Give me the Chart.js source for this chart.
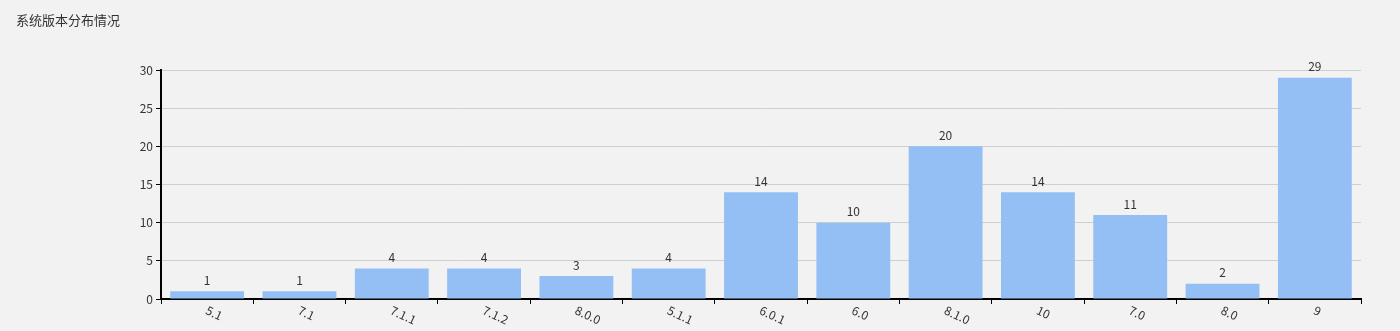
<!DOCTYPE html>
<html>
<head>
<meta charset="utf-8">
<script src="https://cdn.jsdelivr.net/npm/chart.js@4/dist/chart.umd.min.js"></script>
<style>
  html, body { margin: 0; padding: 0; background: #f2f2f2; }
  #wrap { position: relative; width: 1400px; height: 331px; }
</style>
</head>
<body>
<div id="wrap"><canvas id="versionChart" width="1400" height="331"></canvas></div>
<script>
const chartTitle = "系统版本分布情况";
const versions = ["5.1", "7.1", "7.1.1", "7.1.2", "8.0.0", "5.1.1", "6.0.1", "6.0", "8.1.0", "10", "7.0", "8.0", "9"];
const counts = [1, 1, 4, 4, 3, 4, 14, 10, 20, 14, 11, 2, 29];
const yTicks = [0, 5, 10, 15, 20, 25, 30];

const FONT = "'Microsoft YaHei', 'Noto Sans CJK SC', sans-serif";

// title, value labels and slanted category labels
const extras = {
    id: 'extras',
    afterDatasetsDraw(c) {
        const ctx = c.ctx;
        ctx.save();
        ctx.fillStyle = '#333';
        ctx.font = '13px ' + FONT;
        ctx.textAlign = 'left';
        ctx.textBaseline = 'middle';
        ctx.fillText(chartTitle, 16, 20);

        ctx.font = '12px ' + FONT;
        const meta = c.getDatasetMeta(0);
        ctx.textAlign = 'center';
        ctx.textBaseline = 'bottom';
        meta.data.forEach((bar, i) => {
            ctx.fillText(String(counts[i]), bar.x, bar.y - 5);
        });

        const xs = c.scales.x;
        ctx.textAlign = 'left';
        ctx.textBaseline = 'top';
        versions.forEach((v, i) => {
            const px = xs.getPixelForValue(i);
            ctx.save();
            ctx.translate(px + 2, xs.top + 5);
            ctx.rotate(25 * Math.PI / 180);
            ctx.fillText(v, 0, 0);
            ctx.restore();
        });
        ctx.restore();
    }
};

new Chart(document.getElementById("versionChart").getContext("2d"), {
    type: 'bar',
    data: {
        labels: versions,
        datasets: [{
            data: counts,
            backgroundColor: '#93bff5',
            barPercentage: 0.8,
            categoryPercentage: 1.0
        }]
    },
    options: {
        responsive: false,
        animation: false,
        layout: { padding: { top: 70, right: 39, left: 0, bottom: 0 } },
        plugins: { legend: { display: false }, tooltip: { enabled: false } },
        scales: {
            x: {
                grid: { offset: true, drawOnChartArea: false, tickLength: 5, tickColor: '#000', tickWidth: 1 },
                border: { color: '#000', width: 2 },
                ticks: { display: false },
                afterFit(s) { s.height = 32; }
            },
            y: {
                min: 0,
                max: 30,
                afterBuildTicks(s) { s.ticks = yTicks.map(v => ({ value: v })); },
                grid: { color: '#cfcfcf', tickColor: '#000', tickLength: 5, tickWidth: 1 },
                border: { color: '#000', width: 2 },
                ticks: { color: '#333', font: { size: 12, family: FONT }, padding: 3 },
                afterFit(s) { s.width = 161; }
            }
        }
    },
    plugins: [extras]
});
</script>
</body>
</html>
